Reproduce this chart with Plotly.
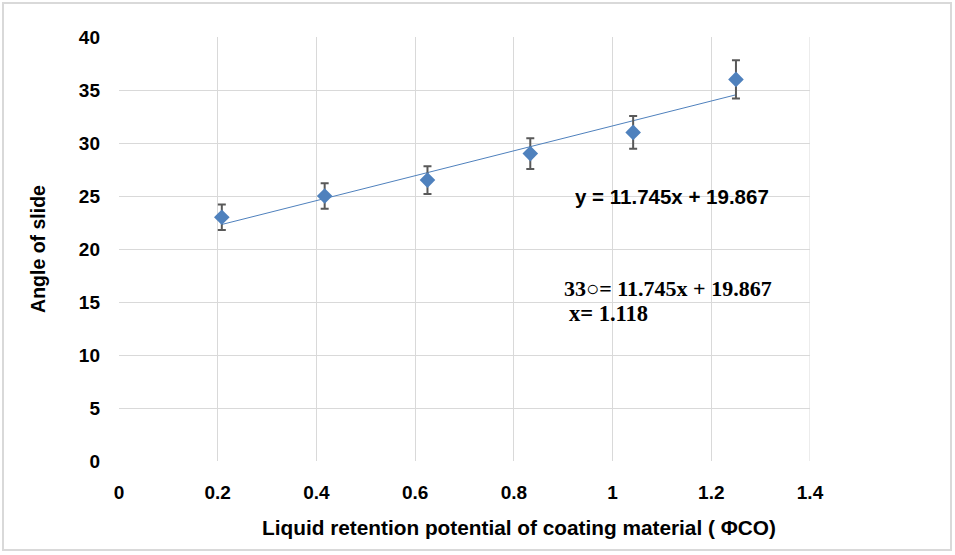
import plotly.graph_objects as go

x_vals = [0.2083, 0.4167, 0.625, 0.8333, 1.0417, 1.25]
y_vals = [23.0, 25.0, 26.5, 29.0, 31.0, 36.0]
err_vals = [1.2, 1.2, 1.3, 1.45, 1.55, 1.8]
slope = 11.745
intercept = 19.867
x_ticks = [0, 0.2, 0.4, 0.6, 0.8, 1, 1.2, 1.4]
y_ticks = [0, 5, 10, 15, 20, 25, 30, 35, 40]

trend_x = [min(x_vals), max(x_vals)]
trend_y = [slope * v + intercept for v in trend_x]

fig = go.Figure()
fig.add_trace(go.Scatter(x=trend_x, y=trend_y, mode="lines",
                         line=dict(color="#4F81BD", width=1), showlegend=False, hoverinfo="skip"))
fig.add_trace(go.Scatter(x=x_vals, y=y_vals, mode="markers",
                         marker=dict(symbol="diamond", size=12, color="#4F81BD"),
                         error_y=dict(type="data", array=err_vals, color="#595959", thickness=2, width=4),
                         showlegend=False))

sans = "Liberation Sans, Arial, sans-serif"
serif = "Liberation Serif, Times New Roman, serif"
fig.update_layout(
    width=955, height=555,
    margin=dict(l=119, r=145, t=37, b=94),
    paper_bgcolor="white", plot_bgcolor="white",
    xaxis=dict(range=[0, 1.4], tickvals=x_ticks, ticktext=[str(t) for t in x_ticks],
               showgrid=True, gridcolor="#d9d9d9", gridwidth=1, zeroline=False,
               showline=False, ticks="", ticklabelstandoff=18,
               tickfont=dict(family=sans, size=19, color="black", weight="bold")),
    yaxis=dict(range=[0, 40], tickvals=y_ticks,
               showgrid=True, gridcolor="#d9d9d9", gridwidth=1, zeroline=False,
               showline=False, ticks="", ticklabelstandoff=18,
               tickfont=dict(family=sans, size=19, color="black", weight="bold"),
               title=dict(text="Angle of slide",
                          font=dict(family=sans, size=19.5, color="black", weight="bold"), standoff=28)),
)
fig.add_shape(type="line", xref="x", yref="y", x0=1.4, x1=1.4, y0=0, y1=40,
              line=dict(color="#d9d9d9", width=1))
fig.add_shape(type="rect", xref="paper", yref="paper",
              x0=(3 - 119) / 691, x1=(951 - 119) / 691, y0=(461 - 550) / 424, y1=(461 - 3) / 424,
              line=dict(color="#d9d9d9", width=2), fillcolor="rgba(0,0,0,0)", layer="below")

fig.add_annotation(x=(519 - 119) / 691, y=(461 - 527) / 424, xref="paper", yref="paper", showarrow=False,
                   xanchor="center", yanchor="middle",
                   text="<b>Liquid retention potential of coating material ( ΦCO)</b>",
                   font=dict(family=sans, size=20.8, color="black"))
fig.add_annotation(x=1.1204, y=25.0, xref="x", yref="y", showarrow=False,
                   text="<b>y = 11.745x + 19.867</b>",
                   font=dict(family=sans, size=20.5, color="black"))
fig.add_annotation(x=0.8975, y=16.3, xref="x", yref="y", showarrow=False, xanchor="left",
                   text="<b>33○= 11.745x + 19.867</b>",
                   font=dict(family=serif, size=22, color="black"))
fig.add_annotation(x=0.9077, y=13.87, xref="x", yref="y", showarrow=False, xanchor="left",
                   text="<b>x= 1.118</b>",
                   font=dict(family=serif, size=22.5, color="black"))

fig.write_html("out.html", config={"displayModeBar": False},
               post_script="document.body.style.margin='0';document.body.style.padding='0';")
